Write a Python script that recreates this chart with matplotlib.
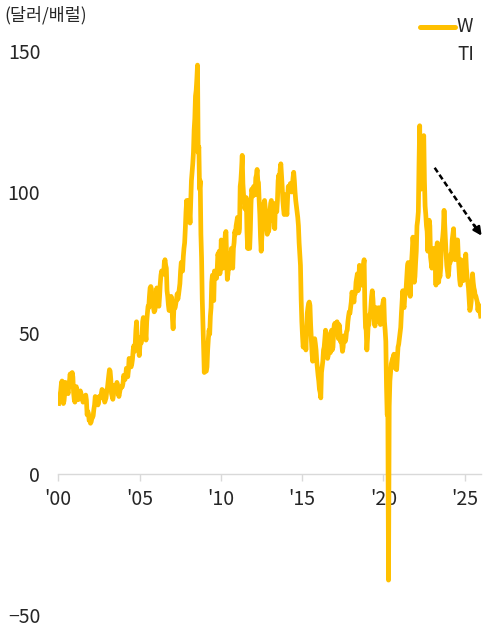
"""WTI crude oil price, 2000-2025 (twice-monthly readings)"""

import matplotlib

matplotlib.use("Agg")
import matplotlib.pyplot as plt
import numpy as np
from matplotlib.lines import Line2D

plt.rcParams["font.family"] = ["Noto Sans CJK KR", "DejaVu Sans"]

# readings from the chart, $/bbl (Jan..Dec): first half of each month
wti_early = {
    2000: [25.0, 28.0, 32.0, 27.0, 26.0, 32.5, 30.0, 28.5, 33.0, 31.0, 36.0, 29.0],
    2001: [25.5, 31.0, 26.5, 26.5, 29.5, 27.0, 25.5, 27.0, 28.0, 21.0, 21.5, 19.5],
    2002: [18.5, 20.0, 23.0, 27.5, 26.5, 24.5, 27.5, 27.0, 30.0, 27.5, 25.5, 27.0],
    2003: [30.5, 35.0, 36.5, 28.5, 26.5, 31.5, 30.5, 32.5, 28.5, 29.0, 30.5, 31.0],
    2004: [35.0, 33.5, 37.5, 34.5, 41.0, 38.5, 39.0, 44.0, 43.5, 51.0, 47.5, 44.5],
    2005: [45.5, 46.5, 54.0, 55.0, 50.0, 54.0, 59.5, 63.0, 66.5, 62.0, 59.0, 58.0],
    2006: [63.0, 63.0, 59.5, 67.5, 72.0, 71.5, 75.0, 74.0, 65.0, 60.0, 58.0, 63.0],
    2007: [55.0, 58.0, 59.0, 62.0, 62.0, 65.5, 72.0, 75.0, 77.0, 82.0, 93.0, 90.0],
    2008: [97.0, 89.0, 104.0, 110.0, 122.0, 134.0, 140.0, 114.0, 101.0, 85.0, 62.0, 45.0],
    2009: [44.0, 36.5, 44.0, 51.0, 56.0, 68.0, 63.0, 72.0, 71.5, 72.0, 77.0, 71.0],
    2010: [83.0, 74.0, 80.0, 85.0, 76.0, 71.0, 78.0, 74.0, 76.0, 80.0, 86.0, 88.0],
    2011: [91.0, 85.5, 102.0, 108.0, 103.0, 98.0, 96.0, 86.0, 88.0, 80.0, 96.0, 100.0],
    2012: [102.0, 99.0, 106.0, 104.0, 97.0, 84.0, 84.0, 92.0, 97.0, 92.0, 85.0, 86.0],
    2013: [93.0, 97.0, 90.0, 94.0, 96.0, 93.0, 104.0, 104.0, 110.0, 102.0, 94.0, 96.0],
    2014: [94.0, 98.0, 100.0, 103.0, 100.0, 105.0, 104.0, 97.0, 93.0, 88.0, 78.0, 62.0],
    2015: [49.0, 48.0, 49.5, 51.0, 59.0, 61.0, 53.0, 43.0, 47.0, 48.0, 44.0, 37.5],
    2016: [33.0, 29.0, 36.0, 40.0, 45.0, 51.0, 45.0, 42.0, 47.5, 50.0, 44.0, 51.0],
    2017: [53.5, 52.5, 50.5, 53.0, 47.0, 46.0, 45.0, 49.0, 48.0, 51.0, 56.0, 57.0],
    2018: [61.0, 63.5, 61.0, 64.0, 69.5, 65.0, 74.0, 68.0, 69.0, 74.0, 60.0, 51.0],
    2019: [48.0, 53.0, 56.0, 63.0, 62.0, 54.0, 57.0, 55.0, 57.0, 56.0, 56.0, 59.5],
    2020: [62.0, 51.0, 31.0, 22.0, 24.0, 36.0, 40.0, 41.5, 40.0, 39.5, 41.0, 46.0],
    2021: [50.0, 57.0, 65.0, 59.0, 64.0, 70.0, 75.0, 68.0, 69.0, 79.0, 81.0, 70.0],
    2022: [79.0, 90.0, 110.0, 104.0, 103.0, 118.0, 104.0, 92.0, 86.0, 88.0, 88.0, 75.0],
    2023: [75.0, 78.0, 76.0, 80.0, 74.0, 71.0, 73.0, 82.0, 87.0, 88.0, 78.0, 72.0],
    2024: [72.0, 75.0, 78.0, 85.0, 80.0, 77.0, 83.0, 77.0, 69.0, 76.0, 70.0, 69.0],
    2025: [74.0, 73.0, 68.0, 62.0, 59.0, 65.0, 68.0, 65.0, 63.0, 61.0, 60.0, 57.5],
}
# second half of each month
wti_late = {
    2000: [27.2, 29.4, 33.0, 25.0, 28.8, 31.8, 29.7, 31.2, 35.5, 33.1, 34.4, 26.5],
    2001: [29.6, 29.6, 27.2, 27.4, 28.6, 27.6, 26.4, 27.4, 26.2, 22.2, 19.0, 18.0],
    2002: [19.7, 20.7, 24.5, 26.2, 27.0, 25.5, 26.9, 28.4, 29.7, 28.9, 26.3, 29.4],
    2003: [32.9, 37.0, 33.6, 27.5, 28.1, 30.7, 30.8, 31.6, 27.5, 30.3, 31.1, 32.2],
    2004: [34.3, 34.7, 36.8, 36.7, 40.3, 38.0, 40.7, 45.5, 45.9, 54.0, 48.5, 42.0],
    2005: [46.8, 48.0, 55.5, 52.0, 47.5, 57.0, 59.0, 66.0, 65.6, 62.4, 57.5, 59.4],
    2006: [66.0, 60.5, 62.9, 70.5, 70.9, 70.9, 76.0, 73.0, 63.0, 58.0, 59.1, 62.0],
    2007: [51.5, 59.3, 60.4, 63.9, 63.5, 67.5, 75.0, 72.0, 80.0, 87.0, 97.0, 91.7],
    2008: [93.0, 96.0, 107.0, 114.0, 126.0, 136.0, 145.0, 116.0, 104.0, 76.6, 54.0, 36.0],
    2009: [36.5, 38.0, 47.9, 49.6, 59.0, 70.5, 61.5, 71.0, 69.4, 78.0, 79.0, 73.0],
    2010: [81.0, 73.0, 81.2, 86.0, 69.0, 75.3, 73.0, 80.0, 73.0, 82.0, 85.0, 89.5],
    2011: [90.0, 87.0, 104.0, 113.0, 99.0, 94.0, 98.0, 80.0, 80.0, 86.4, 101.0, 98.6],
    2012: [100.3, 105.0, 108.0, 103.3, 92.0, 79.0, 88.0, 96.0, 94.5, 88.0, 86.5, 88.0],
    2013: [96.0, 95.3, 92.0, 87.0, 95.0, 97.0, 106.0, 108.0, 106.3, 97.0, 92.0, 99.0],
    2014: [92.0, 102.0, 100.8, 102.0, 102.2, 107.0, 100.0, 95.0, 91.0, 82.0, 74.0, 54.0],
    2015: [45.0, 50.6, 44.0, 57.0, 60.5, 59.8, 48.0, 40.0, 45.5, 46.2, 40.0, 35.0],
    2016: [30.0, 27.0, 38.0, 44.0, 48.0, 50.0, 41.0, 47.0, 43.0, 51.0, 45.0, 53.0],
    2017: [52.5, 54.0, 48.0, 51.1, 48.5, 43.5, 49.0, 47.0, 50.5, 54.0, 57.5, 59.0],
    2018: [64.5, 62.0, 64.5, 68.0, 71.0, 66.0, 73.0, 67.0, 72.5, 76.0, 52.0, 44.0],
    2019: [53.0, 56.5, 59.5, 65.0, 57.0, 52.5, 59.0, 54.0, 59.0, 53.0, 57.0, 61.0],
    2020: [54.0, 47.0, 21.0, -37.6, 33.0, 39.0, 41.0, 42.5, 37.5, 37.0, 45.0, 48.0],
    2021: [52.0, 61.0, 60.0, 63.0, 66.0, 74.0, 72.0, 63.0, 75.0, 84.0, 68.0, 75.0],
    2022: [88.0, 93.0, 123.5, 101.0, 112.0, 120.0, 95.0, 88.0, 79.0, 90.0, 77.0, 73.0],
    2023: [80.0, 75.0, 67.0, 82.0, 68.0, 70.0, 81.0, 84.0, 93.5, 83.0, 74.0, 70.0],
    2024: [76.0, 78.0, 83.0, 87.0, 76.0, 81.0, 83.0, 73.0, 67.0, 74.0, 68.5, 71.5],
    2025: [78.0, 70.0, 66.0, 58.0, 61.0, 71.0, 66.0, 63.0, 62.0, 58.0, 59.5, 56.0],
}
years = list(wti_late.keys())

tick_years = [2000, 2005, 2010, 2015, 2020, 2025]
tick_labels = ["'00", "'05", "'10", "'15", "'20", "'25"]
y_ticks = [-50, 0, 50, 100, 150]

months = np.arange(12)
x_parts, y_parts = [], []
for yr in years:
    x_parts.append(np.column_stack([yr + (months + 0.25) / 12, yr + (months + 0.75) / 12]).ravel())
    y_parts.append(np.column_stack([wti_early[yr], wti_late[yr]]).ravel())
x = np.concatenate(x_parts)
wti = np.concatenate(y_parts)

gold = "#FFC000"
text_color = "#262626"

fig = plt.figure(figsize=(4.95, 6.27), dpi=100)
ax = fig.add_axes([0.1178, 0.019, 0.8539, 0.8997])

ax.plot(x, wti, color=gold, lw=3.4, solid_joinstyle="round", zorder=3)

# trend arrow (dashed shaft + solid head)
ax.plot([2023.15, 2025.9], [108.6, 85.4], color="black", lw=1.8,
        ls=(0, (2.2, 1.2)), clip_on=False, zorder=4)
ax.annotate("", xy=(2026.04, 84.5), xytext=(2025.6, 88.2),
            arrowprops=dict(arrowstyle="-|>", color="black", lw=1.8,
                            mutation_scale=12, shrinkA=0, shrinkB=0),
            annotation_clip=False, zorder=4)

ax.set_xlim(2000, 2026)
ax.set_ylim(-50, 150)
ax.set_xticks(tick_years)
ax.set_xticklabels(tick_labels)
ax.set_yticks(y_ticks)

for side in ["top", "right", "left"]:
    ax.spines[side].set_visible(False)
ax.spines["bottom"].set_position(("data", 0))
ax.spines["bottom"].set_color("#d9d9d9")
ax.spines["bottom"].set_linewidth(1.0)

ax.tick_params(axis="x", direction="out", length=5, width=1.0, color="#d9d9d9",
               pad=6, labelsize=14, labelcolor=text_color)
ax.tick_params(axis="y", length=0, pad=13, labelsize=14, labelcolor=text_color)

fig.text(0.008, 0.975, "(달러/배럴)", fontsize=12.5, color=text_color,
         ha="left", va="center")

# legend: handle with a wrapped label
fig.add_artist(Line2D([420 / 495, 455 / 495], [1 - 27 / 627, 1 - 27 / 627],
                      color=gold, lw=3.6, solid_capstyle="round"))
fig.text(457 / 495, 1 - 27 / 627, "W", fontsize=13.5, color=text_color,
         ha="left", va="center")
fig.text(457 / 495, 1 - 55 / 627, "TI", fontsize=13.5, color=text_color,
         ha="left", va="center")

fig.savefig("out.png", dpi=100)
